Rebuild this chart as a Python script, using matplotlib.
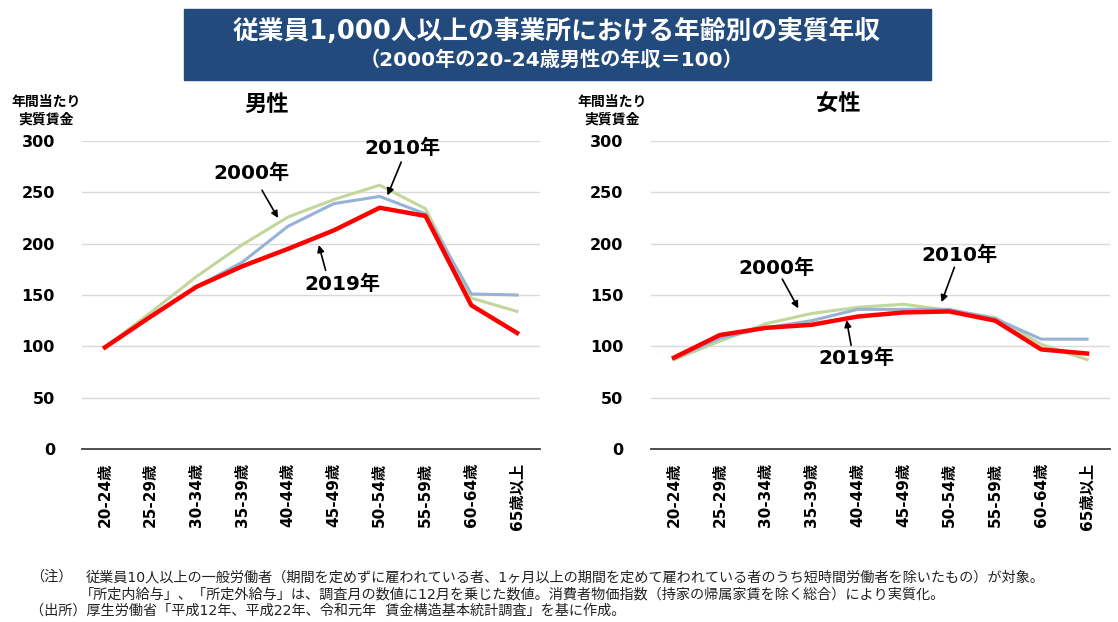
import matplotlib.pyplot as plt
from matplotlib.patches import Rectangle

plt.rcParams['font.family'] = ['DejaVu Sans', 'Noto Sans CJK JP']

# age groups
ages = ['20-24歳', '25-29歳', '30-34歳', '35-39歳', '40-44歳',
        '45-49歳', '50-54歳', '55-59歳', '60-64歳', '65歳以上']

# male (2000年の20-24歳男性 = 100)
male_2000 = [99, 133, 168, 199, 226, 243, 257, 234, 147, 134]
male_2010 = [99, 129, 158, 182, 217, 239, 246, 229, 151, 150]
male_2019 = [99, 129, 158, 178, 195, 213, 235, 227, 140, 113]

# female
female_2000 = [87, 105, 122, 132, 138, 141, 135, 128, 102, 87]
female_2010 = [88, 108, 118, 125, 136, 136, 136, 127, 107, 107]
female_2019 = [89, 111, 118, 121, 129, 133, 134, 125, 97, 93]

yticks = [0, 50, 100, 150, 200, 250, 300]

col_2000 = '#C3D69B'
col_2010 = '#95B3D7'
col_2019 = '#FF0000'

fig = plt.figure(figsize=(11.18, 6.22), dpi=100)

# title box
fig.patches.append(Rectangle((184 / 1118, 1 - 80 / 622), (931 - 184) / 1118, 71 / 622,
                             transform=fig.transFigure, color='#234A7C', zorder=0))
fig.text(557 / 1118, 1 - 32 / 622, '従業員1,000人以上の事業所における年齢別の実質年収',
         ha='center', va='center', color='white', fontsize=18.5, fontweight='bold')
fig.text(552 / 1118, 1 - 60 / 622, '（2000年の20-24歳男性の年収＝100）',
         ha='center', va='center', color='white', fontsize=14.5, fontweight='bold')


def draw_panel(rect, s2000, s2010, s2019, title, title_x, ylab_x, ypad, notes):
    ax = fig.add_axes(rect)
    x = list(range(len(ages)))
    ax.plot(x, s2000, color=col_2000, lw=2.2, zorder=3)
    ax.plot(x, s2010, color=col_2010, lw=2.2, zorder=4)
    ax.plot(x, s2019, color=col_2019, lw=3.2, zorder=5)
    ax.set_xlim(-0.5, len(ages) - 0.5)
    ax.set_ylim(0, 300)
    ax.set_yticks(yticks)
    ax.set_xticks(x)
    ax.set_xticklabels(ages, rotation=90, fontsize=11, fontweight='bold')
    ax.tick_params(axis='x', length=0, pad=10)
    ax.tick_params(axis='y', length=0, pad=ypad, labelsize=11.5)
    for lab in ax.get_yticklabels():
        lab.set_fontweight('bold')
    ax.grid(axis='y', color='#D9D9D9', lw=1)
    ax.set_axisbelow(True)
    for s in ['top', 'right', 'left']:
        ax.spines[s].set_visible(False)
    ax.spines['bottom'].set_color('#404040')
    ax.spines['bottom'].set_linewidth(1.3)
    ax.spines['bottom'].set_zorder(6)

    fig.text(title_x / 1118, 1 - 104 / 622, title, ha='center', va='center',
             fontsize=16, fontweight='bold')
    fig.text(ylab_x / 1118, 1 - 111 / 622, '年間当たり\n実質賃金', ha='center', va='center',
             fontsize=10, fontweight='bold', linespacing=1.3)

    for label, txt_pos, tail, head in notes:
        ax.text(txt_pos[0], txt_pos[1], label, ha='center', va='center',
                fontsize=14.5, fontweight='bold', zorder=7)
        ax.annotate('', xy=head, xytext=tail,
                    arrowprops=dict(arrowstyle='-|>', color='black', lw=1.2,
                                    mutation_scale=10, shrinkA=0, shrinkB=0), zorder=7)
    return ax


male_notes = [
    ('2000年', (3.21, 268.7), (3.43, 252), (3.78, 225)),
    ('2010年', (6.49, 293), (6.47, 279.5), (6.17, 247)),
    ('2019年', (5.19, 160), (4.82, 174), (4.67, 198.6)),
]
female_notes = [
    ('2000年', (2.23, 176), (2.36, 165.5), (2.71, 137)),
    ('2010年', (6.22, 189), (6.11, 177), (5.83, 143)),
    ('2019年', (3.97, 88.6), (3.86, 101), (3.76, 125.6)),
]

draw_panel([82 / 1118, 1 - 449 / 622, (540 - 82) / 1118, 308 / 622],
           male_2000, male_2010, male_2019, '男性', 267, 46, 19.5, male_notes)
draw_panel([651 / 1118, 1 - 449 / 622, (1110 - 651) / 1118, 308 / 622],
           female_2000, female_2010, female_2019, '女性', 838, 612, 20, female_notes)

# footnotes
fn = 10.2
fig.text(30 / 1118, 1 - 577 / 622, '（注）', fontsize=fn, va='center', color='#222222')
fig.text(86 / 1118, 1 - 577 / 622,
         '従業員10人以上の一般労働者（期間を定めずに雇われている者、1ヶ月以上の期間を定めて雇われている者のうち短時間労働者を除いたもの）が対象。',
         fontsize=fn, va='center', color='#222222')
fig.text(80 / 1118, 1 - 594 / 622,
         '「所定内給与」、「所定外給与」は、調査月の数値に12月を乗じた数値。消費者物価指数（持家の帰属家賃を除く総合）により実質化。',
         fontsize=fn, va='center', color='#222222')
fig.text(30 / 1118, 1 - 611 / 622,
         '（出所）厚生労働省「平成12年、平成22年、令和元年  賃金構造基本統計調査」を基に作成。',
         fontsize=fn, va='center', color='#222222')

fig.savefig('out.png', dpi=100)
